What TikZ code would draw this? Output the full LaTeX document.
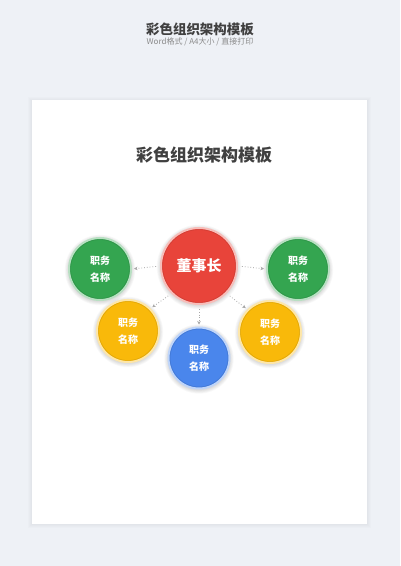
\documentclass[tikz,border=0pt]{standalone}
\usepackage{fontspec}
\newfontfamily\cjk{Noto Sans CJK SC}
\usetikzlibrary{arrows.meta,calc}
\definecolor{bgc}{HTML}{EEF1F6}
\definecolor{redc}{HTML}{E8443A}
\definecolor{greenc}{HTML}{34A550}
\definecolor{yellowc}{HTML}{F9B90A}
\definecolor{bluec}{HTML}{4A86EC}
\definecolor{titlec}{HTML}{404040}
\definecolor{subc}{HTML}{8A8A8A}
\definecolor{arrowc}{HTML}{A8A8A8}
\tikzset{
  ballnode/.style={circle, inner sep=0pt, text=white, align=center, font=\cjk\bfseries\fontsize{10}{16.5}\selectfont},
  conn/.style={arrowc, line width=0.8pt, dotted, -{Stealth[length=3.5pt,width=3.5pt]}, shorten <=4pt, shorten >=2pt},
}
\newcommand\Ball[5]{%
  \foreach \k in {1,...,6} \fill[black, opacity=0.022] ($(#2)+(0,1)$) circle ({(#3+\k*0.7)*1pt});
  \node[ballnode, minimum size={#3*2pt}, fill=#4, draw=#4!35!white, line width=2pt] (#1) at (#2) {#5};
  \draw[#4!75!black, line width=0.5pt, opacity=0.45] (#1.center) circle ({(#3-1.6)*1pt});
}
\begin{document}
\begin{tikzpicture}[x=1pt,y=-1pt]
\useasboundingbox (0,0) rectangle (400,566);
\fill[bgc] (0,0) rectangle (400,566);
% paper shadow
\foreach \k in {1,...,4} \fill[black, opacity=0.012] (32-\k,100-\k+1) rectangle (367+\k,524+\k);
\fill[white] (32,100) rectangle (367,524);
% titles
\node[text=titlec, font=\cjk\bfseries\fontsize{13.5}{14}\selectfont] (toptitle) at (200,29) {彩色组织架构模板};
\node[text=subc, font=\cjk\fontsize{8}{9}\selectfont] (subtitle) at (200,42) {Word格式 / A4大小 / 直接打印};
\node[text=titlec, font=\cjk\bfseries\fontsize{17}{18}\selectfont] (title) at (204,155) {彩色组织架构模板};
% balls
\Ball{red}{199,266}{38}{redc}{\fontsize{15}{16}\selectfont 董事长}
\Ball{gl}{100,269}{31}{greenc}{职务\\名称}
\Ball{gr}{298,269}{31}{greenc}{职务\\名称}
\Ball{yl}{128,331}{31}{yellowc}{职务\\名称}
\Ball{yr}{270,332}{31}{yellowc}{职务\\名称}
\Ball{bl}{199,358}{30.5}{bluec}{职务\\名称}
% connectors
\draw[conn] (red.west) -- (gl.east);
\draw[conn] (red.east) -- (gr.west);
\draw[conn] (red.225) -- (yl.45);
\draw[conn] (red.-45) -- (yr.135);
\draw[conn] (red.south) -- (bl.north);
\end{tikzpicture}
\end{document}
